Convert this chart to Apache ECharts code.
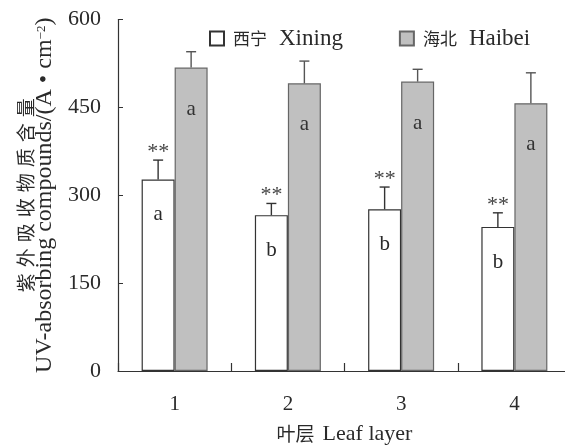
<!DOCTYPE html>
<html>
<head>
<meta charset="utf-8">
<script src="https://cdn.jsdelivr.net/npm/echarts@6/dist/echarts.min.js"></script>
<style>
  html, body { margin: 0; padding: 0; background: #fff; }
  #chart { width: 565px; height: 445px; }
</style>
</head>
<body>
<div id="chart"></div>
<script>
// Leaf layers on the category axis
const layers = ['1', '2', '3', '4'];

// UV-absorbing compounds (A·cm^-2), means and upper standard deviations
const xiningMean = [327, 266, 276, 246];
const xiningSd   = [33, 20, 38, 24];
const haibeiMean = [518, 491, 494, 457];
const haibeiSd   = [27, 38, 21, 52];

// Multiple-comparison letters and significance marks between sites
const xiningLetters = ['a', 'b', 'b', 'b'];
const haibeiLetters = ['a', 'a', 'a', 'a'];
const siteMarks     = ['**', '**', '**', '**'];

const yTicks = [0, 150, 300, 450, 600];

const SERIF = '"Liberation Serif", "Times New Roman", serif';
const CJK = '"Noto Sans CJK SC", sans-serif';
const INK = '#2a2a2a';
const BAR_W = 33;

// Y-axis title: Chinese line set with loose character spacing, English line below it
const yTitleCn = '紫外吸收物质含量';
const yTitleEn = 'UV-absorbing compounds/(A • cm';
const yTitleCnRich = Array.from(yTitleCn)
  .map((ch, i, arr) => '{' + (i < arr.length - 1 ? 'c' : 'ce') + '|' + ch + '}')
  .join('');

const chart = echarts.init(document.getElementById('chart'), null, { renderer: 'canvas' });

// Upper whisker with cap, plus an optional mark above the cap
function errorSeries(name, means, sds, shift, color, marks) {
  return {
    type: 'custom',
    name: name + '-err',
    z: 5,
    silent: true,
    data: means.map((m, i) => [i, m, m + sds[i]]),
    renderItem: function (params, api) {
      const i = api.value(0);
      const base = api.coord([i, api.value(1)]);
      const top = api.coord([i, api.value(2)]);
      const x = base[0] + shift;
      const cap = 5;
      const children = [
        { type: 'line', shape: { x1: x, y1: base[1], x2: x, y2: top[1] },
          style: { stroke: color, lineWidth: 1.4 } },
        { type: 'line', shape: { x1: x - cap, y1: top[1], x2: x + cap, y2: top[1] },
          style: { stroke: color, lineWidth: 1.4 } }
      ];
      if (marks) {
        children.push({
          type: 'text',
          style: {
            x: x, y: top[1] - 8, text: marks[params.dataIndex],
            fill: '#444', font: '22px ' + SERIF,
            align: 'center', verticalAlign: 'middle'
          }
        });
      }
      return { type: 'group', children: children };
    }
  };
}

const option = {
  animation: false,
  backgroundColor: '#fff',
  textStyle: { fontFamily: SERIF, color: INK },
  grid: {
    left: 118, top: 19.5, width: 453, height: 351.5,
    containLabel: false, outerBoundsMode: 'none'
  },
  legend: {
    left: 204, top: 22,
    icon: 'rect',
    itemWidth: 14, itemHeight: 14, itemGap: 56,
    data: ['西宁 Xining', '海北 Haibei'],
    formatter: function (n) {
      const parts = n.split(' ');
      return '{c|' + parts[0] + '}{l|' + parts[1] + '}';
    },
    textStyle: {
      rich: {
        c: { fontFamily: CJK, fontSize: 17, color: INK, padding: [0, 12, 0, 4] },
        l: { fontFamily: SERIF, fontSize: 23, color: INK }
      }
    }
  },
  xAxis: {
    type: 'category',
    data: layers,
    axisLine: { lineStyle: { color: '#333', width: 1.2 } },
    axisTick: { show: true, inside: true, length: 8, alignWithLabel: false, lineStyle: { color: '#333', width: 1.2 } },
    axisLabel: { fontFamily: SERIF, fontSize: 21, color: INK, margin: 23 },
    name: '{c|叶层}{l|Leaf layer}',
    nameLocation: 'middle',
    nameGap: 52,
    nameTextStyle: {
      rich: {
        c: { fontFamily: CJK, fontSize: 19, color: INK, padding: [0, 8, 0, 0] },
        l: { fontFamily: SERIF, fontSize: 22, color: INK }
      }
    }
  },
  yAxis: {
    type: 'value',
    min: yTicks[0],
    max: yTicks[yTicks.length - 1],
    interval: yTicks[1] - yTicks[0],
    axisLine: { show: true, lineStyle: { color: '#333', width: 1.2 } },
    axisTick: { show: true, inside: true, length: 5, lineStyle: { color: '#333' } },
    splitLine: { show: false },
    axisLabel: { fontFamily: SERIF, fontSize: 22, color: INK, margin: 17 },
    name: yTitleCnRich + '\n{l|' + yTitleEn + '}{s|−2}{l|)}',
    nameLocation: 'middle',
    nameRotate: 90,
    nameGap: 61,
    nameTextStyle: {
      align: 'center',
      lineHeight: 19,
      rich: {
        c: { fontFamily: CJK, fontSize: 19, lineHeight: 19, color: INK, padding: [0, 6, 0, 0] },
        ce: { fontFamily: CJK, fontSize: 19, lineHeight: 19, color: INK },
        l: { fontFamily: SERIF, fontSize: 24, lineHeight: 19, color: INK },
        s: { fontFamily: SERIF, fontSize: 13, lineHeight: 19, color: INK, verticalAlign: 'top', padding: [0, 0, 9, 0] }
      }
    }
  },
  series: [
    {
      name: '西宁 Xining',
      type: 'bar',
      barWidth: BAR_W,
      barGap: '0%',
      data: xiningMean,
      itemStyle: { color: '#ffffff', borderColor: '#333', borderWidth: 1.2 },
      label: {
        show: true, position: 'insideTop', distance: 25,
        formatter: p => xiningLetters[p.dataIndex],
        fontFamily: SERIF, fontSize: 21, color: INK
      }
    },
    {
      name: '海北 Haibei',
      type: 'bar',
      barWidth: BAR_W,
      barGap: '0%',
      data: haibeiMean,
      itemStyle: { color: '#c0c0c0', borderColor: '#666', borderWidth: 1.2 },
      label: {
        show: true, position: 'insideTop', distance: 31,
        formatter: p => haibeiLetters[p.dataIndex],
        fontFamily: SERIF, fontSize: 21, color: '#333'
      }
    },
    errorSeries('西宁 Xining', xiningMean, xiningSd, -BAR_W / 2, '#333', siteMarks),
    errorSeries('海北 Haibei', haibeiMean, haibeiSd, BAR_W / 2, '#555', null)
  ]
};

chart.setOption(option);
</script>
</body>
</html>
